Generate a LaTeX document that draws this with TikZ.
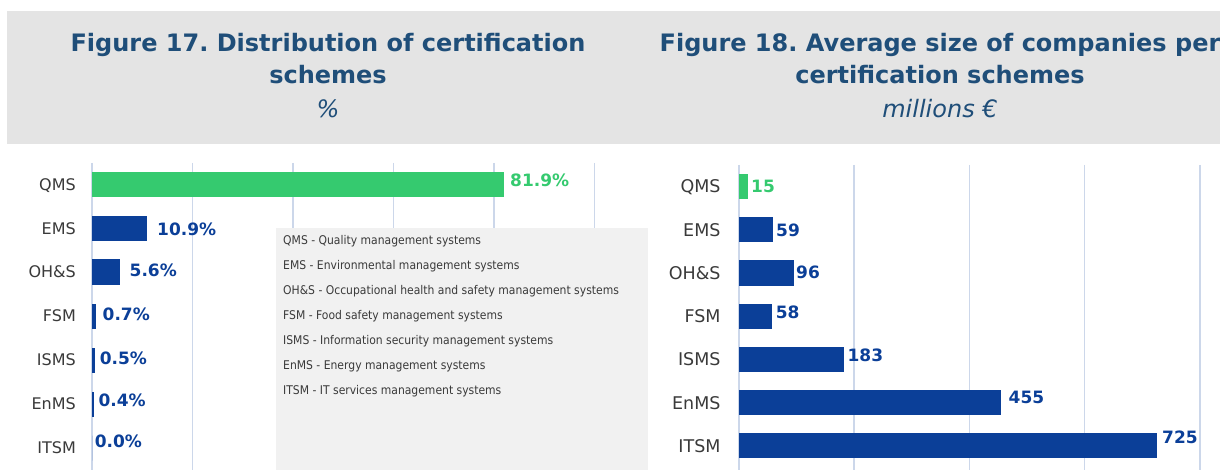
\documentclass[tikz,border=0pt]{standalone}
\usepackage{fontspec}
\setmainfont{DejaVu Sans}
\newfontfamily\narrowfont[FakeStretch=0.9]{DejaVu Sans}
\frenchspacing
\definecolor{headgray}{HTML}{E4E4E4}
\definecolor{titleblue}{HTML}{1F4E79}
\definecolor{gridblue}{HTML}{CCD7EA}
\definecolor{bargreen}{HTML}{35CA6F}
\definecolor{barblue}{HTML}{0B3F98}
\definecolor{legendgray}{HTML}{F1F1F1}
\definecolor{labgray}{HTML}{3A3A3A}
\tikzset{
  figtitle/.style={anchor=base,inner sep=0pt,text=titleblue,font=\fontsize{24}{28}\selectfont\bfseries},
  figunit/.style={anchor=base,inner sep=0pt,text=titleblue,font=\fontsize{24}{28}\selectfont\itshape},
  catlabel/.style={anchor=east,inner sep=0pt,text=labgray,font=\fontsize{#1}{#1}\selectfont,text height=0.729*#1pt,text depth=0pt},
  vallabel/.style={anchor=west,inner sep=0pt,font=\fontsize{17}{17}\selectfont\bfseries,text height=12.4pt,text depth=0pt},
  legentry/.style={anchor=west,inner sep=0pt,text=labgray,font=\narrowfont\fontsize{12}{12}\selectfont,text height=8.75pt,text depth=0pt},
  gridline/.style={gridblue,line width=1.5pt}
}
\begin{document}
\begin{tikzpicture}[x=1pt,y=-1pt]
\useasboundingbox (0,0) rectangle (1220,470);
\fill[white] (0,0) rectangle (1220,470);
\fill[headgray] (7,11) rectangle (1220,144);
\node[figtitle] (t17a) at (328,51.7) {Figure 17. Distribution of certification};
\node[figtitle] (t17b) at (328,84) {schemes};
\node[figunit] (t17c) at (328,117.5) {\%};
\node[figtitle] (t18a) at (940,51.7) {Figure 18. Average size of companies per};
\node[figtitle] (t18b) at (940,84) {certification schemes};
\node[figunit] (t18c) at (940,117.5) {millions €};
% figure 17
\foreach \g in {0,20,...,100}
  \draw[gridline] ({92+\g*5.025},163) -- ({92+\g*5.025},470);
\foreach \n/\v/\y/\c/\lx/\ly [count=\k] in {QMS/81.9/184.5/bargreen/510/180,
    EMS/10.9/228.4/barblue/157/229, OH\&S/5.6/272/barblue/129.5/270.7,
    FSM/0.7/316/barblue/102.5/314, ISMS/0.5/360/barblue/99.6/358,
    EnMS/0.4/404/barblue/98.3/400, ITSM/0.0/448/barblue/94.6/441.7}{
  \fill[\c] (92,\y-12.5) rectangle ({92+\v*5.025},\y+12.5);
  \node[catlabel=16] (pl-\k) at (76,\y) {\n};
  \node[vallabel,text=\c] (pv-\k) at (\lx,\ly) {\v\%};
}
\fill[legendgray] (276,228) rectangle (648,470);
\foreach \t [count=\k] in {QMS - Quality management systems,
    EMS - Environmental management systems,
    OH\&S - Occupational health and safety management systems,
    FSM - Food safety management systems,
    ISMS - Information security management systems,
    EnMS - Energy management systems,
    ITSM - IT services management systems}
  \node[legentry] (leg-\k) at (283,{240+25.1*(\k-1)}) {\t};
% figure 18
\foreach \g in {0,200,...,800}
  \draw[gridline] ({739+\g*0.576},165) -- ({739+\g*0.576},470);
\foreach \n/\v/\y/\c/\lx/\ly [count=\k] in {QMS/15/186.5/bargreen/751/186.7,
    EMS/59/230/barblue/776/230, OH\&S/96/273/barblue/796/272.7,
    FSM/58/316.2/barblue/775.6/312.7, ISMS/183/359.2/barblue/847.4/355.7,
    EnMS/455/402.8/barblue/1008.5/397.3, ITSM/725/445.8/barblue/1162/437.7}{
  \fill[\c] (739,\y-12.5) rectangle ({739+\v*0.576},\y+12.5);
  \node[catlabel=17.5] (sl-\k) at (720.7,\y) {\n};
  \node[vallabel,text=\c] (sv-\k) at (\lx,\ly) {\v};
}
\end{tikzpicture}
\end{document}
